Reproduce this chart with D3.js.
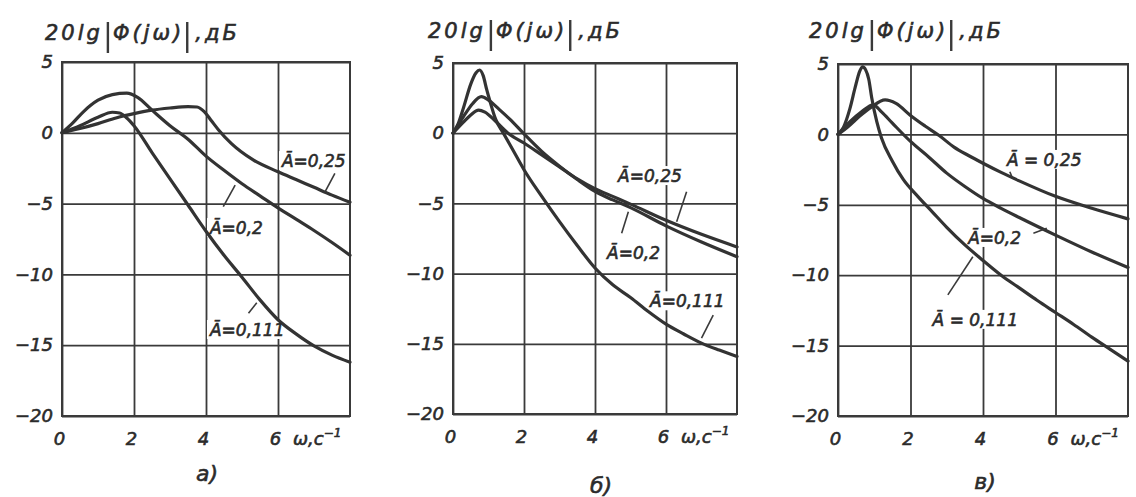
<!DOCTYPE html>
<html lang="ru">
<head>
<meta charset="UTF-8">
<title>ЛАЧХ замкнутой системы</title>
<style>
  body { margin:0; background:#fff; overflow:hidden; }
  #chart { display:block; }
  text { font-family:'DejaVu Sans', sans-serif; font-style:italic; fill:#2b2b2b; stroke:#2b2b2b; stroke-width:0.6px; }
  .curve { fill:none; stroke:#333; stroke-width:3.2; stroke-linejoin:round; stroke-linecap:round; }
</style>
</head>
<body>
<svg id="chart" width="1136" height="497"></svg>
<script src="https://d3js.org/d3.v7.min.js"></script>
<script>
// оси
const omegaTicks = [0, 2, 4, 6];
const dbTicks = [5, 0, -5, -10, -15, -20];
const captions = ['а)', 'б)', 'в)'];

// а)
const wA25 = [0, 0.5, 1, 1.5, 2, 2.5, 3, 3.5, 3.75, 3.95, 4.15, 4.35, 4.7, 5.3, 6, 6.5, 7, 7.5, 8];
const dbA25 = [0, 0.3, 0.65, 1.05, 1.35, 1.6, 1.75, 1.85, 1.82, 1.5, 0.85, 0.2, -0.75, -1.9, -2.75, -3.3, -3.85, -4.4, -4.9];
const wA2 = [0, 0.3, 0.6, 1, 1.4, 1.8, 2.1, 2.5, 3, 3.5, 4, 4.5, 5, 5.5, 6, 6.5, 7, 7.5, 8];
const dbA2 = [0, 0.7, 1.5, 2.3, 2.7, 2.8, 2.5, 1.6, 0.5, -0.45, -1.65, -2.65, -3.6, -4.45, -5.3, -6.1, -6.9, -7.75, -8.65];
const wA111 = [0, 0.5, 1, 1.4, 1.6, 1.8, 2.0, 2.5, 3, 3.5, 4, 4.5, 5, 5.5, 6, 6.5, 7, 7.5, 8];
const dbA111 = [0, 0.5, 1.1, 1.45, 1.4, 1.05, 0.5, -1.4, -3.25, -5.1, -6.95, -8.65, -10.2, -11.8, -13.2, -14.2, -15.05, -15.7, -16.2];

// б)
const wB25 = [0, 0.3, 0.5, 0.72, 0.9, 1.2, 1.55, 2, 2.5, 3, 3.5, 4, 4.5, 5, 6, 7, 8];
const dbB25 = [0, 0.8, 1.3, 1.65, 1.5, 0.85, 0, -0.7, -1.55, -2.4, -3.25, -3.95, -4.5, -5.05, -6.2, -7.2, -8.1];
const wB2 = [0, 0.3, 0.55, 0.8, 1.0, 1.3, 1.6, 2, 2.5, 3, 3.5, 4, 4.5, 5, 6, 7, 8];
const dbB2 = [0, 1.2, 2.1, 2.6, 2.35, 1.7, 1.0, -0.05, -1.3, -2.35, -3.3, -4.15, -4.75, -5.3, -6.6, -7.75, -8.8];
const wB111 = [0, 0.15, 0.3, 0.5, 0.65, 0.75, 0.85, 0.95, 1.05, 1.2, 1.42, 1.7, 2, 2.5, 3, 3.5, 4, 4.5, 5, 5.5, 6, 6.5, 7, 7.5, 8];
const dbB111 = [0, 0.7, 1.85, 3.5, 4.3, 4.5, 4.1, 3.1, 2.2, 1.0, 0, -1.25, -2.6, -4.5, -6.3, -8.0, -9.6, -10.8, -11.7, -12.7, -13.6, -14.3, -14.95, -15.45, -15.9];

// в)
const wC25 = [0, 0.3, 0.6, 0.9, 1.3, 1.6, 2.0, 2.4, 2.8, 3.2, 3.6, 4, 4.5, 5, 6, 7, 8];
const dbC25 = [0, 0.6, 1.3, 1.9, 2.45, 2.2, 1.35, 0.6, -0.1, -0.9, -1.5, -2.05, -2.7, -3.3, -4.4, -5.25, -6.0];
const wC2 = [0, 0.33, 0.65, 0.97, 1.2, 1.5, 2, 2.5, 3, 3.5, 4, 4.5, 5, 6, 7, 8];
const dbC2 = [0, 0.9, 1.6, 2.1, 1.6, 0.8, -0.5, -1.6, -2.75, -3.7, -4.55, -5.25, -5.9, -7.15, -8.35, -9.45];
const wC111 = [0, 0.15, 0.33, 0.47, 0.6, 0.68, 0.76, 0.85, 0.93, 1.07, 1.2, 1.5, 1.8, 2.2, 2.6, 3, 3.5, 4, 4.5, 5, 5.5, 6, 6.5, 7, 7.5, 8];
const dbC111 = [0, 0.5, 1.85, 3.3, 4.5, 4.8, 4.6, 3.9, 2.6, 0.9, -0.25, -1.9, -3.2, -4.4, -5.5, -6.6, -7.85, -8.95, -10.0, -10.9, -11.8, -12.65, -13.5, -14.4, -15.25, -16.1];

// раскладка панелей, подписи кривых в координатах (ω, дБ)
const panels = [
  { box: [62, 350, 62, 416], title: [45, 40], caption: [207, 481],
    series: [[wA25, dbA25], [wA2, dbA2], [wA111, dbA111]],
    notes: [
      { t: 'Ā=0,25', at: [6.11, -2.42], lead: [[7.58, -2.86], [7.31, -4.16]] },
      { t: 'Ā=0,2', at: [4.11, -7.15], lead: [[4.48, -5.22], [4.81, -3.69]] },
      { t: 'Ā=0,111', at: [4.11, -14.35], lead: [[5.18, -12.75], [5.41, -12.0]] } ] },
  { box: [453, 737, 63, 414], title: [428, 38], caption: [601, 493],
    series: [[wB25, dbB25], [wB2, dbB2], [wB111, dbB111]],
    notes: [
      { t: 'Ā=0,25', at: [4.65, -3.48], lead: [[6.58, -4.17], [6.3, -6.3]] },
      { t: 'Ā=0,2', at: [4.34, -8.96], lead: [[4.75, -7.13], [4.94, -5.59]] },
      { t: 'Ā=0,111', at: [5.55, -12.4], lead: [[7.33, -12.95], [7.0, -14.6]] } ] },
  { box: [838, 1128, 64, 416], title: [809, 38], caption: [985, 489],
    series: [[wC25, dbC25], [wC2, dbC2], [wC111, dbC111]],
    notes: [
      { t: 'Ā = 0,25', at: [4.66, -2.24], lead: [[4.74, -2.65], [4.8, -3.03]] },
      { t: 'Ā=0,2', at: [3.59, -7.78], lead: [[5.39, -7.02], [5.76, -6.67]] },
      { t: 'Ā = 0,111', at: [2.61, -13.6], lead: [[3.03, -11.4], [3.72, -8.69]] } ] }
];

const svg = d3.select('#chart');
const INK = '#3a3a3a';
const fmtDb = d => d < 0 ? '−' + Math.abs(d) : String(d);

function drawTitle(g, x, y) {
  let cx = x;
  const piece = s => {
    const t = g.append('text').attr('x', cx).attr('y', y).attr('font-size', 21)
      .attr('letter-spacing', 3).text(s);
    cx += t.node().getComputedTextLength();
  };
  const bar = () => {
    g.append('line').attr('x1', cx + 3).attr('x2', cx + 3).attr('y1', y - 18).attr('y2', y + 13)
      .attr('stroke', INK).attr('stroke-width', 2.4);
    cx += 8;
  };
  piece('20lg'); cx += 2; bar(); piece('Φ(jω)'); bar(); cx += 3; piece(',дБ');
}

panels.forEach((p, i) => {
  const [x0, x1, y0, y1] = p.box;
  const x = d3.scaleLinear().domain([0, 8]).range([x0, x1]);
  const y = d3.scaleLinear().domain([-20, 5]).range([y1, y0]);
  const g = svg.append('g');

  // сетка и оси
  const gy = g.append('g').attr('transform', `translate(${x0},0)`)
    .call(d3.axisLeft(y).tickValues(dbTicks).tickSize(-(x1 - x0)).tickPadding(9).tickFormat(fmtDb));
  const gx = g.append('g').attr('transform', `translate(0,${y1})`)
    .call(d3.axisBottom(x).tickValues(omegaTicks).tickSize(-(y1 - y0)).tickPadding(16));
  [gy, gx].forEach(a => {
    a.attr('font-family', null).attr('font-size', 18);
    a.select('.domain').remove();
    a.selectAll('line').attr('stroke', INK).attr('stroke-width', 1.8);
    a.selectAll('text').attr('fill', '#2b2b2b');
  });
  gx.selectAll('text').attr('dx', -3);
  g.append('rect').attr('x', x0).attr('y', y0).attr('width', x1 - x0).attr('height', y1 - y0)
    .attr('fill', 'none').attr('stroke', INK).attr('stroke-width', 2);

  // подпись оси ω
  const ax = g.append('text').attr('x', x(6) + 15).attr('y', y1 + 29).attr('font-size', 18).text('ω,c');
  ax.append('tspan').attr('font-size', 12).attr('dy', -8).text('−1');

  drawTitle(g, p.title[0], p.title[1]);
  g.append('text').attr('x', p.caption[0]).attr('y', p.caption[1]).attr('text-anchor', 'middle')
    .attr('font-size', 22).text(captions[i]);

  const mask = g.append('g');
  const curves = g.append('g');
  const notes = g.append('g');

  const line = d3.line().x(d => x(d[0])).y(d => y(d[1])).curve(d3.curveMonotoneX);
  p.series.forEach(([w, db]) => {
    curves.append('path').attr('class', 'curve').attr('d', line(d3.zip(w, db)));
  });

  p.notes.forEach(n => {
    const t = notes.append('text').attr('x', x(n.at[0])).attr('y', y(n.at[1]))
      .attr('font-size', 17).text(n.t);
    const bb = t.node().getBBox();
    mask.append('rect').attr('x', bb.x - 2).attr('y', bb.y + 1).attr('width', bb.width + 4)
      .attr('height', bb.height - 2).attr('fill', '#fff');
    notes.append('line')
      .attr('x1', x(n.lead[0][0])).attr('y1', y(n.lead[0][1]))
      .attr('x2', x(n.lead[1][0])).attr('y2', y(n.lead[1][1]))
      .attr('stroke', INK).attr('stroke-width', 1.6);
  });
});
</script>
</body>
</html>
